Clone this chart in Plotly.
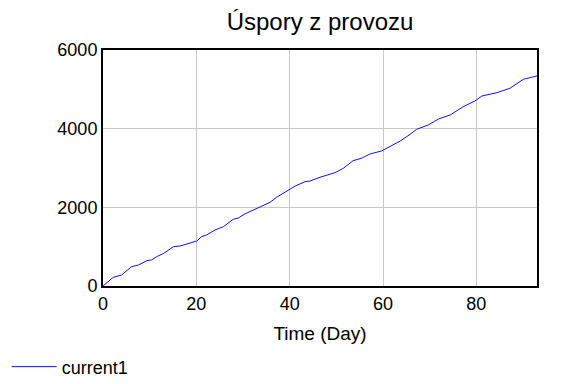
import plotly.graph_objects as go

time_day = [0, 2.2, 4.0, 6.1, 7.6, 9.4, 10.4, 11.5, 12.9, 15.1, 16.5, 20.1, 21.1, 22.2,
            24.0, 25.8, 27.9, 29.0, 30.4, 33.7, 35.8, 37.2, 39.7, 41.2, 43.3, 44.4,
            46.5, 48.7, 49.7, 51.5, 53.6, 55.4, 57.2, 59.7, 61.5, 63.7, 65.8, 67.2,
            69.7, 71.9, 74.4, 77.2, 79.7, 81.2, 84.4, 87.2, 90.1, 93.0]
current1 = [0, 221, 280, 491, 534, 644, 661, 746, 822, 1000, 1017, 1144, 1254, 1297,
            1424, 1508, 1695, 1729, 1831, 2016, 2128, 2255, 2423, 2543, 2652, 2670,
            2764, 2840, 2881, 2992, 3186, 3247, 3356, 3433, 3542, 3687, 3856, 3984,
            4094, 4246, 4348, 4559, 4704, 4831, 4915, 5027, 5256, 5340]

fig = go.Figure()
fig.add_trace(go.Scatter(x=time_day, y=current1, mode="lines", name="current1",
                         line=dict(color="#1010ff", width=1)))

font = "Liberation Sans, Arial, sans-serif"
fig.update_layout(
    width=576, height=384,
    margin=dict(l=103, r=39, t=50, b=98, autoexpand=False),
    paper_bgcolor="white", plot_bgcolor="white",
    font=dict(family=font, size=18, color="black"),
    title=dict(text="Úspory z provozu", x=0.5, xref="paper", xanchor="center",
               y=1 - 22 / 384, yanchor="middle", font=dict(size=24)),
    showlegend=True,
    legend=dict(x=-0.222, xanchor="left", y=-0.343, yanchor="middle",
                orientation="h", font=dict(size=18), bgcolor="rgba(0,0,0,0)",
                itemwidth=45),
    xaxis=dict(range=[0, 93], tickvals=[0, 20, 40, 60, 80], showgrid=True,
               gridcolor="#c8c8c8", gridwidth=1, showline=True, linecolor="black",
               linewidth=2, mirror=True, ticks="", zeroline=False,
               tickfont=dict(size=18),
               title=dict(text="Time (Day)", standoff=14, font=dict(size=19))),
    yaxis=dict(range=[0, 6000], tickvals=[0, 2000, 4000, 6000], showgrid=True,
               gridcolor="#c8c8c8", gridwidth=1, showline=True, linecolor="black",
               linewidth=2, mirror=True, ticks="", zeroline=False,
               tickfont=dict(size=18)),
)
fig.write_html("out.html")
